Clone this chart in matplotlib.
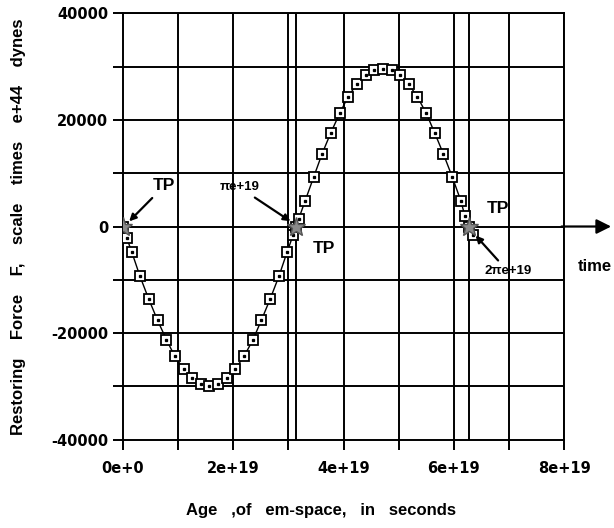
import matplotlib
matplotlib.use('Agg')
import matplotlib.pyplot as plt

# age of em-space, units of 1e19 s
age = [0.0, 0.07, 0.16, 0.31, 0.47, 0.63, 0.79, 0.94, 1.10, 1.26, 1.41, 1.57,
       1.73, 1.88, 2.04, 2.20, 2.36, 2.51, 2.67, 2.83, 2.98, 3.09, 3.14, 3.19,
       3.30, 3.46, 3.61, 3.77, 3.93, 4.08, 4.24, 4.40, 4.56, 4.71, 4.87, 5.03,
       5.18, 5.34, 5.50, 5.65, 5.81, 5.97, 6.13, 6.20, 6.28, 6.35]
# restoring force, scale times e+44 dynes
force = [0, -2100, -4700, -9300, -13600, -17600, -21200, -24300, -26700, -28500, -29600, -30000,
         -29600, -28500, -26700, -24300, -21200, -17600, -13600, -9300, -4700, -1500, 0, 1500,
         4700, 9300, 13600, 17600, 21200, 24300, 26700, 28500, 29300, 29500, 29300, 28500,
         26700, 24300, 21200, 17600, 13600, 9300, 4700, 1900, 0, -1500]

turning_x = [0.0, 3.14, 6.28]
turning_y = [0, 0, 0]

xticks = [0, 2, 4, 6, 8]
xticklabels = ['0e+0', '2e+19', '4e+19', '6e+19', '8e+19']
yticks = [-40000, -20000, 0, 20000, 40000]

plt.rcParams['font.family'] = 'DejaVu Sans'
plt.rcParams['font.weight'] = 'bold'
plt.rcParams['axes.unicode_minus'] = False
helv = 'Liberation Sans'

fig = plt.figure(figsize=(6.14, 5.28), dpi=100)
ax = fig.add_axes([0.2, 0.167, 0.719, 0.808])

# grid lines every 1e19 and 10000, plus pi and 2pi
for gx in [1, 2, 3, 4, 5, 6, 7, 8] + turning_x[1:]:
    ax.axvline(gx, color='black', lw=1.4, zorder=1)
for gy in [-30000, -20000, -10000, 0, 10000, 20000, 30000, 40000]:
    ax.axhline(gy, color='black', lw=1.4, zorder=1)

ax.plot(age, force, color='black', lw=1.0, marker='s', ms=6.5, mfc='white',
        mec='black', mew=1.3, zorder=3)
ax.plot(age, force, ls='none', marker='s', ms=1.4, color='black', zorder=4)

ax.plot(turning_x, turning_y, ls='none', marker='*', ms=14, color='#8a8a8a',
        mec='#555555', zorder=5)

ax.set_xlim(0, 8)
ax.set_ylim(-40000, 40000)
ax.set_xticks(xticks)
ax.set_xticklabels(xticklabels)
ax.set_xticks([1, 3, 5, 7], minor=True)
ax.set_yticks(yticks)
ax.set_yticks([-30000, -10000, 10000, 30000], minor=True)
ax.tick_params(which='both', direction='out', length=7, width=1.4, labelsize=10.5)
ax.tick_params(axis='x', pad=8)
for s in ax.spines.values():
    s.set_linewidth(1.4)

ax.set_xlabel('Age   ,of   em-space,   in   seconds', family=helv, fontsize=12,
              fontweight='bold', labelpad=20)
ax.xaxis.label.set_x(0.45)
ax.set_ylabel('Restoring    Force    F,    scale    times    e+44    dynes', family=helv,
              fontsize=12, fontweight='bold', labelpad=18)

arrow = dict(arrowstyle='-|>', color='black', lw=1.6, mutation_scale=10)
ax.annotate('TP', xy=(0.08, 600), xytext=(0.55, 6800), family=helv, fontsize=12.5,
            arrowprops=arrow)
ax.annotate('πe+19', xy=(3.08, 700), xytext=(1.75, 6800), family=helv, fontsize=9.5,
            arrowprops=arrow)
ax.text(3.45, -4200, 'TP', family=helv, fontsize=12.5, va='center')
ax.text(6.6, 3300, 'TP', family=helv, fontsize=12.5, va='center')
ax.annotate('2πe+19', xy=(6.36, -1300), xytext=(6.55, -8400), family=helv, fontsize=9.5,
            va='center', arrowprops=arrow)

# time axis arrow beyond the frame
ax.annotate('', xy=(8.9, 0), xytext=(7.9, 0), annotation_clip=False,
            arrowprops=dict(arrowstyle='-|>', color='black', lw=1.6, mutation_scale=22))
ax.text(8.24, -7500, 'time', family=helv, fontsize=12, va='center', clip_on=False)

fig.savefig('out.png', dpi=100)
